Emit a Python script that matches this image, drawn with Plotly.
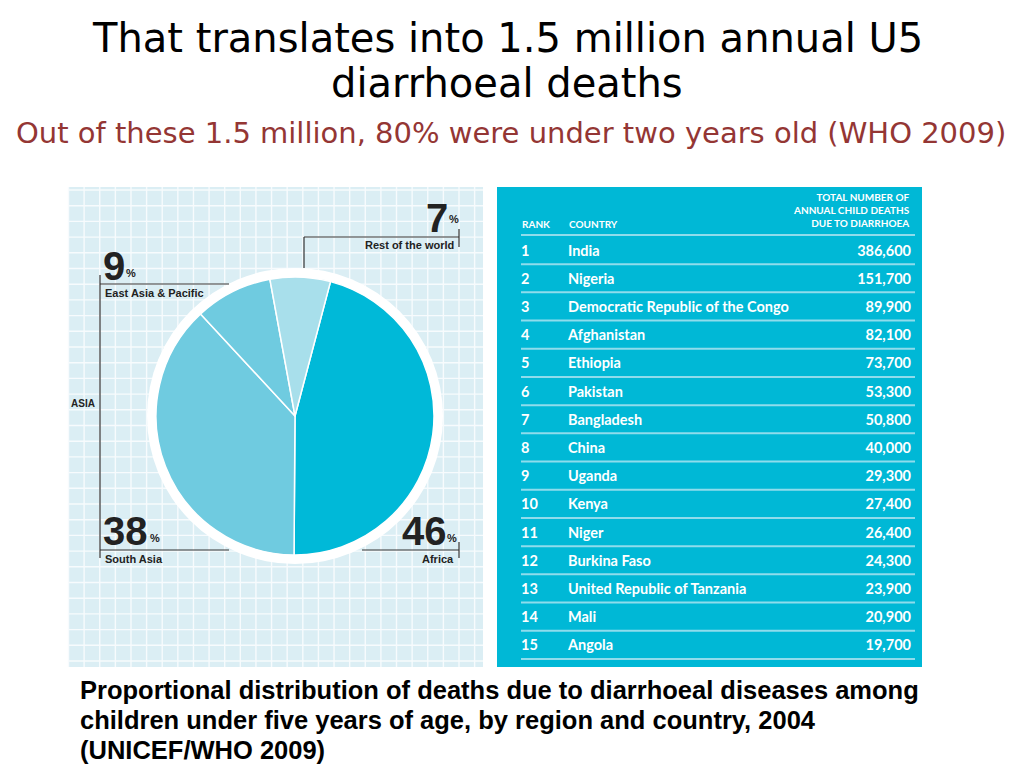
import plotly.graph_objects as go

# ---------------- data ----------------
regions = ["Africa", "South Asia", "East Asia & Pacific", "Rest of the world"]
shares = [46, 38, 9, 7]
slice_colors = ["#00b9d8", "#6fcbe0", "#6fcbe0", "#a8dfeb"]

ranks = list(range(1, 16))
countries = ["India", "Nigeria", "Democratic Republic of the Congo", "Afghanistan",
             "Ethiopia", "Pakistan", "Bangladesh", "China", "Uganda", "Kenya",
             "Niger", "Burkina Faso", "United Republic of Tanzania", "Mali", "Angola"]
deaths = [386600, 151700, 89900, 82100, 73700, 53300, 50800, 40000, 29300,
          27400, 26400, 24300, 23900, 20900, 19700]

header_cols = ["RANK", "COUNTRY", "TOTAL NUMBER OF<br>ANNUAL CHILD DEATHS<br>DUE TO DIARRHOEA"]

title_lines = ["That translates into 1.5 million annual U5", "diarrhoeal deaths"]
subtitle = "Out of these 1.5 million, 80% were under two years old (WHO 2009)"
caption_lines = ["Proportional distribution of deaths due to diarrhoeal diseases among",
                 "children under five years of age, by region and country, 2004",
                 "(UNICEF/WHO 2009)"]

# ---------------- layout constants ----------------
W, H = 1024, 768
PX0, PX1, PY0, PY1 = 68, 483, 187, 667        # pie panel
TX0, TX1, TY0, TY1 = 497, 922, 187, 667       # table panel
CX, CY, R = 295, 416, 139                     # pie centre / radius
RING = 148
TABLE_CYAN = "#00b8d6"
SEP = "#8fdcec"
DARK = "#222222"
ROW0_Y, ROW_H = 252, 28.2

fig = go.Figure()

# pie
fig.add_trace(go.Pie(
    labels=regions, values=shares, sort=False, direction="clockwise", rotation=14.8,
    marker=dict(colors=slice_colors, line=dict(color="white", width=1.5)),
    textinfo="none", hoverinfo="label+percent", showlegend=False,
    domain=dict(x=[(CX - R) / W, (CX + R) / W], y=[1 - (CY + R) / H, 1 - (CY - R) / H]),
))

# table text (rank axis y2)
lab_font = dict(family="Lato, Open Sans, sans-serif", size=14.5, color="white")
def b(items):
    return [f"<b>{s}</b>" for s in items]
fig.add_trace(go.Scatter(x=[521] * len(ranks), y=ranks, text=b(str(r) for r in ranks),
                         mode="text", textposition="middle right", textfont=lab_font,
                         xaxis="x", yaxis="y2", hoverinfo="skip", showlegend=False))
fig.add_trace(go.Scatter(x=[568] * len(ranks), y=ranks, text=b(countries),
                         mode="text", textposition="middle right", textfont=lab_font,
                         xaxis="x", yaxis="y2", hoverinfo="skip", showlegend=False))
fig.add_trace(go.Scatter(x=[911] * len(ranks), y=ranks, text=b(f"{v:,}" for v in deaths),
                         mode="text", textposition="middle left", textfont=lab_font,
                         xaxis="x", yaxis="y2", hoverinfo="skip", showlegend=False))

shapes = []
# pie panel background and grid
shapes.append(dict(type="rect", x0=PX0, x1=PX1, y0=PY0, y1=PY1, xref="x", yref="y",
                   fillcolor="#dbeef4", line=dict(width=0), layer="below"))
gx = PX0 + 0.5
while gx < PX1:
    shapes.append(dict(type="line", x0=gx, x1=gx, y0=PY0, y1=PY1, xref="x", yref="y",
                       line=dict(color="#f7fbfd", width=1.4), layer="below"))
    gx += 15.62
gy = 661
while gy > PY0:
    shapes.append(dict(type="line", x0=PX0, x1=PX1, y0=gy, y1=gy, xref="x", yref="y",
                       line=dict(color="#f7fbfd", width=1.4), layer="below"))
    gy -= 15.7
# white ring behind the pie
shapes.append(dict(type="circle", x0=CX - RING, x1=CX + RING, y0=CY - RING, y1=CY + RING,
                   xref="x", yref="y", fillcolor="white", line=dict(width=0), layer="below"))

# leader lines
def seg(x0, y0, x1, y1):
    shapes.append(dict(type="line", x0=x0, x1=x1, y0=y0, y1=y1, xref="x", yref="y",
                       line=dict(color="#333333", width=1.2)))

seg(304, 268, 304, 237); seg(304, 237, 459, 237); seg(459, 229, 459, 247)   # rest of world
seg(100, 275, 100, 558); seg(100, 284, 229, 284)                               # asia bracket
seg(100, 550, 229, 550)
seg(362, 550, 459, 550); seg(459, 542, 459, 558)                               # africa

# table panel
shapes.append(dict(type="rect", x0=TX0, x1=TX1, y0=TY0, y1=TY1, xref="x", yref="y",
                   fillcolor=TABLE_CYAN, line=dict(width=0), layer="below"))
shapes.append(dict(type="line", x0=521, x1=915, y0=0.4, y1=0.4, xref="x", yref="y2",
                   line=dict(color=SEP, width=2)))
for r in ranks:
    shapes.append(dict(type="line", x0=521, x1=915, y0=r + 0.43, y1=r + 0.43, xref="x", yref="y2",
                       line=dict(color=SEP, width=2)))

fig.update_layout(shapes=shapes)

ann = []
def text(x, y, s, size, color=DARK, family="Liberation Sans, Arial, sans-serif", xa="left", ya="middle",
         align="left", bold=True):
    ann.append(dict(x=x, y=y, xref="x", yref="y", text=(f"<b>{s}</b>" if bold else s), showarrow=False,
                    xanchor=xa, yanchor=ya, align=align,
                    font=dict(family=family, size=size, color=color)))

# titles
title_font = "DejaVu Sans, Verdana, sans-serif"
text(507, 38, title_lines[0], 40, color="black", family=title_font, xa="center", bold=False)
text(507, 83, title_lines[1], 40, color="black", family=title_font, xa="center", bold=False)
text(511, 133, subtitle, 29, color="#943634", family=title_font, xa="center", bold=False)

# caption
cap_font = "Liberation Sans, Arial, sans-serif"
for i, line in enumerate(caption_lines):
    text(78, 690 + 30 * i, line, 25.5, color="black", family=cap_font)

# pie labels  (values from data)
big = "Liberation Sans, Arial, sans-serif"
pct = dict(zip(regions, shares))
text(450, 218, str(pct["Rest of the world"]), 40, xa="right", family=big)
text(447, 227, "%", 11, xa="left", ya="bottom", family=big)
text(456, 245, "Rest of the world", 11, xa="right", family=big)

text(101, 266, str(pct["East Asia & Pacific"]), 40, xa="left", family=big)
text(124, 281, "%", 11, xa="left", ya="bottom", family=big)
text(103, 293, "East Asia & Pacific", 11, xa="left", family=big)

text(69, 403, "ASIA", 10, xa="left", family=big)

text(101, 531, str(pct["South Asia"]), 40, xa="left", family=big)
text(148, 546, "%", 11, xa="left", ya="bottom", family=big)
text(103, 559, "South Asia", 11, xa="left", family=big)

text(449, 531, str(pct["Africa"]), 40, xa="right", family=big)
text(445, 546, "%", 11, xa="left", ya="bottom", family=big)
text(456, 559, "Africa", 11, xa="right", family=big)

# table header
hdr_font = "Lato, Open Sans, sans-serif"
ann.append(dict(x=520, y=0, xref="x", yref="y2", text=f"<b>{header_cols[0]}</b>", showarrow=False,
                xanchor="left", yanchor="middle", font=dict(family=hdr_font, size=10, color="white")))
ann.append(dict(x=567, y=0, xref="x", yref="y2", text=f"<b>{header_cols[1]}</b>", showarrow=False,
                xanchor="left", yanchor="middle", font=dict(family=hdr_font, size=10, color="white")))
ann.append(dict(x=912, y=0.25, xref="x", yref="y2", text=f"<b>{header_cols[2]}</b>", showarrow=False,
                xanchor="right", yanchor="bottom", align="right",
                font=dict(family=hdr_font, size=10, color="white")))

fig.update_layout(
    annotations=ann,
    width=W, height=H, margin=dict(l=0, r=0, t=0, b=0),
    paper_bgcolor="white", plot_bgcolor="white",
    xaxis=dict(range=[0, W], visible=False, fixedrange=True),
    yaxis=dict(range=[H, 0], visible=False, fixedrange=True),
    yaxis2=dict(range=[1 + (H - ROW0_Y) / ROW_H, 1 - ROW0_Y / ROW_H], overlaying="y",
                visible=False, fixedrange=True),
    showlegend=False,
)

fig.write_html("out.html", config={"displayModeBar": False},
               post_script="document.body.style.margin='0';document.body.style.overflow='hidden';")
